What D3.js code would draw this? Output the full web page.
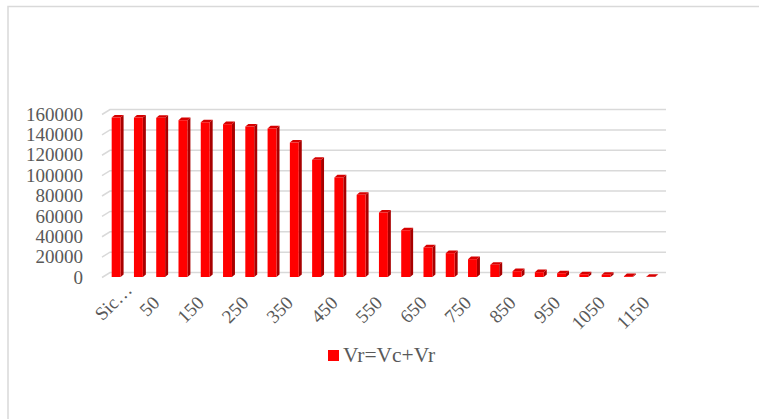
<!DOCTYPE html>
<html><head><meta charset="utf-8">
<script src="https://cdn.jsdelivr.net/npm/d3@7"></script>
<style>body{margin:0;background:#fff}svg{display:block}text{font-family:"Liberation Serif","Times New Roman",serif;fill:#595959}</style>
</head><body>
<script>
const categories = ["Sic…","0","50","100","150","200","250","300","350","400","450","500","550","600","650","700","750","800","850","900","950","1000","1050","1100","1150"];
const values = [156500,156500,156300,153900,151900,150000,147700,145800,132000,115000,97700,80700,63300,45900,29000,23400,17500,12000,5700,4700,3700,2700,2200,800,200];
const yTicks = [0,20000,40000,60000,80000,100000,120000,140000,160000];
const seriesName = "Vr=Vc+Vr";

const W = 759, H = 419;
const svg = d3.select("body").append("svg").attr("width", W).attr("height", H);

// frame
svg.append("path").attr("d", "M8,419 V6.5 H759").attr("fill","none").attr("stroke","#d9d9d9").attr("stroke-width",1.5);

const x = d3.scaleBand().domain(categories).range([105, 661.8]).paddingInner(0.6).paddingOuter(0.3);
const y = d3.scaleLinear().domain([0,160000]).range([277, 114]);

const dX = 8, dY = -5; // wall depth
const g = svg.append("g");
yTicks.forEach(t => {
  const yy = y(t);
  g.append("path").attr("d", `M102,${yy+0.5} L${102+dX},${yy+0.5+dY} H666`)
    .attr("fill","none").attr("stroke","#d9d9d9").attr("stroke-width",1.5);
});

svg.append("g").selectAll("text").data(yTicks).join("text")
  .attr("x", 83).attr("y", d => y(d)).attr("dy","0.35em").attr("text-anchor","end")
  .attr("font-size", 19).text(d => d);

const bx = 3, by = -2.6;
const bars = svg.append("g");
categories.forEach((c, i) => {
  const x0 = x(c), w = x.bandwidth(), y0 = y(0), y1 = y(values[i]);
  bars.append("path").attr("d", `M${x0+w},${y1} L${x0+w+bx},${y1+by} V${y0+by} L${x0+w},${y0} Z`).attr("fill","#a80000");
  bars.append("path").attr("d", `M${x0},${y1} L${x0+bx},${y1+by} H${x0+w+bx} L${x0+w},${y1} Z`).attr("fill","#d60000");
  bars.append("rect").attr("x", x0).attr("y", y1).attr("width", w).attr("height", y0-y1).attr("fill","#ff0000");
});

// x labels (every other); the truncated first label sits higher, as in the original
svg.append("g").selectAll("text").data(categories.filter((d,i)=>i%2===0)).join("text")
  .attr("text-anchor","end").attr("font-size",19)
  .attr("transform", (d,i) => i === 0
      ? `translate(${x(d)+x.bandwidth()/2+17},${291}) rotate(-45)`
      : `translate(${x(d)+x.bandwidth()/2},${304}) rotate(-45)`)
  .text(d => d);

svg.append("rect").attr("x",328).attr("y",350).attr("width",11).attr("height",11).attr("fill","#ff0000");
svg.append("text").attr("x",343).attr("y",362).attr("font-size",21.5).text(seriesName);
</script>
</body></html>
